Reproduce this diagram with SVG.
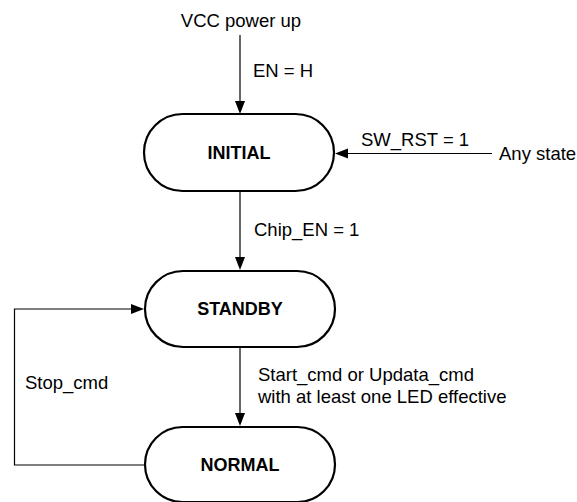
<svg xmlns="http://www.w3.org/2000/svg" width="577" height="502" viewBox="0 0 577 502">
<defs>
<style>
.state{fill:#fff;stroke:#000;stroke-width:2.2}
.st{font-family:"Liberation Sans",Arial,sans-serif;font-size:18px;font-weight:bold;text-anchor:middle;fill:#000}
.lbl{font-family:"Liberation Sans",Arial,sans-serif;font-size:18.5px;fill:#000}
.conn{fill:none;stroke:#000;stroke-width:1.2}
.head{fill:#000}
</style>
</defs>
<rect width="577" height="502" fill="#fff"/>
<g id="connectors">
<path class="conn" d="M240,35 L240,101"/>
<path class="head" d="M235,101 L245,101 L240,114 Z"/>
<path class="conn" d="M492,153.5 L348,153.5"/>
<path class="head" d="M348,148.5 L348,158.5 L335,153.5 Z"/>
<path class="conn" d="M240,191 L240,257"/>
<path class="head" d="M235,257 L245,257 L240,270 Z"/>
<path class="conn" d="M240,347 L240,413"/>
<path class="head" d="M235,413 L245,413 L240,426 Z"/>
<path class="conn" d="M145,465 L14.5,465 L14.5,309 L131,309"/>
<path class="head" d="M131,304 L131,314 L144,309 Z"/>
<text class="lbl" x="241" y="27" text-anchor="middle">VCC power up</text>
<text class="lbl" x="253" y="77">EN = H</text>
<text class="lbl" x="361" y="145.5">SW_RST = 1</text>
<text class="lbl" x="499" y="160">Any state</text>
<text class="lbl" x="254" y="236">Chip_EN = 1</text>
<text class="lbl" x="258" y="380.5">Start_cmd or Updata_cmd</text>
<text class="lbl" x="258" y="402.5">with at least one LED effective</text>
<text class="lbl" x="25" y="388.5">Stop_cmd</text>
</g>
<g id="initial">
<rect class="state" x="144" y="114" width="190" height="77" rx="38.5" ry="38.5"/>
<text class="st" x="239" y="158.5">INITIAL</text>
</g>
<g id="standby">
<rect class="state" x="145" y="271" width="190" height="76" rx="38" ry="38"/>
<text class="st" x="240" y="315">STANDBY</text>
</g>
<g id="normal">
<rect class="state" x="145" y="427" width="190" height="75" rx="37.5" ry="37.5"/>
<text class="st" x="240" y="471">NORMAL</text>
</g>
</svg>
